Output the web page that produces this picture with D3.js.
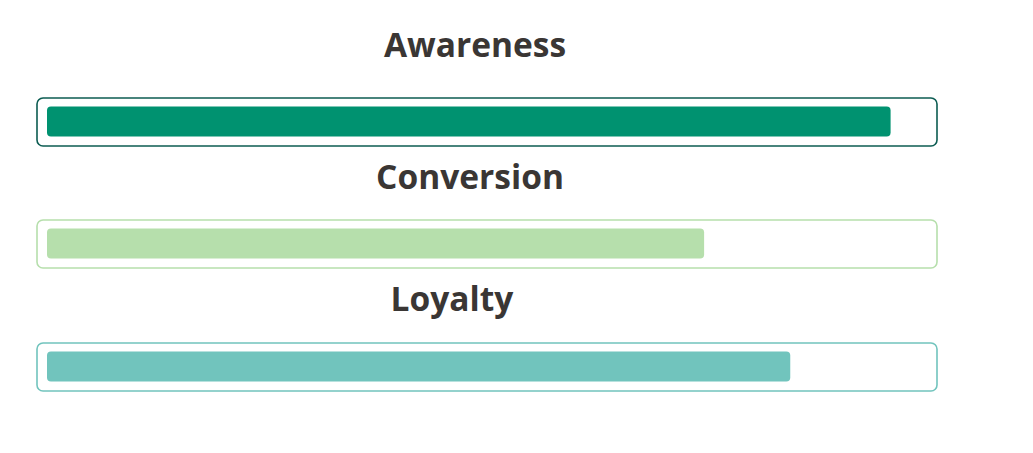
<!DOCTYPE html>
<html>
<head>
<meta charset="utf-8">
<script src="https://cdn.jsdelivr.net/npm/d3@7"></script>
<style>
  html, body { margin: 0; padding: 0; background: #ffffff; }
  svg { display: block; }
</style>
</head>
<body>
<svg id="chart" width="1033" height="453"></svg>
<script>
const categories = ["Awareness", "Conversion", "Loyalty"];
const values = [95, 74, 83.7];
const maxValue = 100;
const barColors = ["#009270", "#b6dfac", "#71c4bd"];
const borderColors = ["#0c5c52", "#b6dfac", "#71c4bd"];

// layout
const boxX = 37, boxW = 900, boxH = 48;
const boxTops = [98, 220, 343];
const titleBaselines = [57, 189, 311];
const titleCenters = [475, 470, 452];
const pad = 10, innerH = 30;

const svg = d3.select("#chart");
const x = d3.scaleLinear().domain([0, maxValue]).range([0, 888]);

const g = svg.selectAll("g.item").data(categories).join("g").attr("class", "item");

g.append("text")
  .attr("x", (d, i) => titleCenters[i])
  .attr("y", (d, i) => titleBaselines[i])
  .attr("text-anchor", "middle")
  .style("font-family", "'Open Sans', sans-serif")
  .style("font-weight", 700)
  .style("font-size", "33.5px")
  .style("fill", "#3a3634")
  .text(d => d);

g.append("rect")
  .attr("x", boxX)
  .attr("y", (d, i) => boxTops[i])
  .attr("width", boxW)
  .attr("height", boxH)
  .attr("rx", 6).attr("ry", 6)
  .attr("fill", "#ffffff")
  .attr("stroke", (d, i) => borderColors[i])
  .attr("stroke-width", 1.6);

g.append("rect")
  .attr("x", boxX + pad)
  .attr("y", (d, i) => boxTops[i] + (boxH - innerH) / 2 - 0.5)
  .attr("width", (d, i) => x(values[i]))
  .attr("height", innerH)
  .attr("rx", 4).attr("ry", 4)
  .attr("fill", (d, i) => barColors[i]);
</script>
</body>
</html>
